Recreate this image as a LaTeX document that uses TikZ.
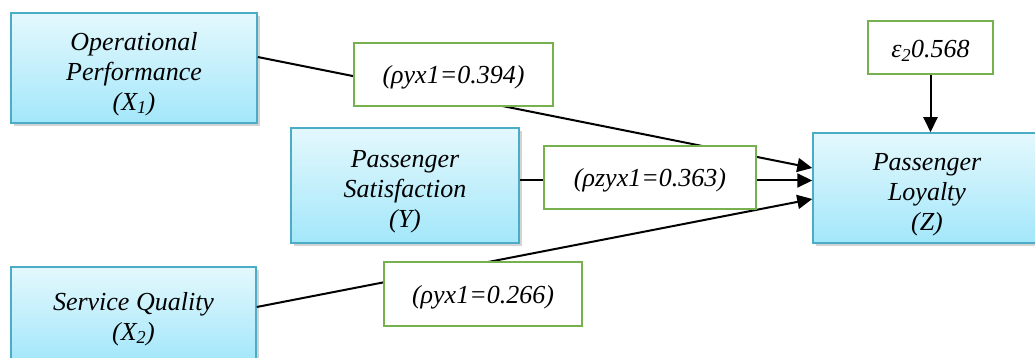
\documentclass[tikz,border=0pt]{standalone}
\usepackage{fontspec}
\setmainfont{Liberation Serif}
\usepackage{xcolor}
\usepackage{tikz}
\usetikzlibrary{arrows.meta,positioning,shadows}
\definecolor{VarBorder}{HTML}{4BACC6}
\definecolor{VarTop}{HTML}{E4F8FD}
\definecolor{VarBottom}{HTML}{A3E7FA}
\definecolor{CoefGreen}{HTML}{77B04F}

\begin{document}
\begin{tikzpicture}[
  x=1pt,y=1pt,
  font=\fontsize{26}{30}\selectfont\itshape,
  var/.style={draw=VarBorder,line width=1.5pt,top color=VarTop,bottom color=VarBottom,align=center,inner sep=0pt,drop shadow={shadow xshift=2.5pt,shadow yshift=-3pt,opacity=0.35}},
  coef/.style={draw=CoefGreen,line width=2.2pt,fill=white,align=center,inner sep=0pt,execute at begin node={\rule{0pt}{24pt}}},
  arrow/.style={-{Triangle[length=15pt,width=14pt]},line width=2pt,black}
]
\useasboundingbox (0,0) rectangle (1035,-358);
\clip (0,0) rectangle (1035,-358);
\node[var,minimum width=246pt,minimum height=110pt] (x1) at (134,-68) {\rule{0pt}{30pt}Operational\\Performance\\(X\textsubscript{1})};
\node[var,minimum width=228pt,minimum height=115pt] (y) at (405,-185.5) {\rule{0pt}{30pt}Passenger\\Satisfaction\\(Y)};
\node[var,minimum width=245pt,minimum height=94pt] (x2) at (133.5,-314) {\rule{0pt}{28pt}Service Quality\\(X\textsubscript{2})};
\node[var,minimum width=228pt,minimum height=110pt] (z) at (927,-188) {\rule{0pt}{31pt}Passenger\\Loyalty\\(Z)};
\node[coef,minimum width=125pt,minimum height=53pt] (eps) at (930.5,-47.5) {ε\textsubscript{2}0.568};
\draw[arrow] ([yshift=11pt]x1.east) -- ([yshift=20pt]z.west);
\draw[arrow] ([yshift=5pt]y.east) -- ([yshift=5pt]y.east -| z.west);
\draw[arrow] ([yshift=7pt]x2.east) -- ([yshift=-11pt]z.west);
\draw[arrow] (eps.south) -- (eps.south |- z.north);
\node[coef,minimum width=199pt,minimum height=63pt] (c1) at (453.5,-74.5) {(ρyx1=0.394)};
\node[coef,minimum width=212pt,minimum height=63pt] (c2) at (650,-177.5) {(ρzyx1=0.363)};
\node[coef,minimum width=198pt,minimum height=64pt] (c3) at (483,-294) {(ρyx1=0.266)};
\end{tikzpicture}
\end{document}
